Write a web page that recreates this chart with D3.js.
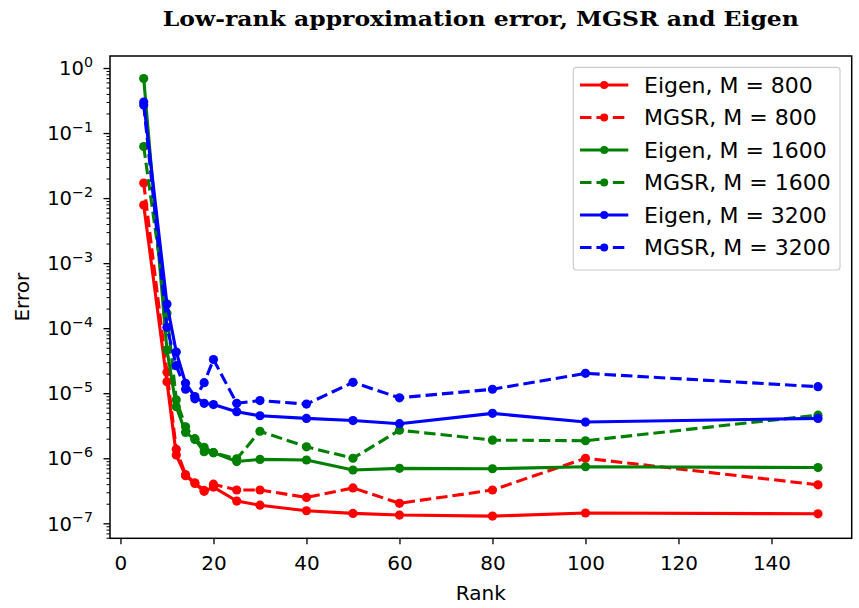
<!DOCTYPE html>
<html>
<head>
<meta charset="utf-8">
<script src="https://cdn.jsdelivr.net/npm/d3@7"></script>
<style>
  body { margin: 0; background: #fff; }
  svg { display: block; }
  text { font-family: "DejaVu Sans", sans-serif; fill: #000; }
</style>
</head>
<body>
<svg id="chart" width="859" height="608"></svg>
<script>
// Ranks at which the approximation error was measured
const ranks = [5, 10, 12, 14, 16, 18, 20, 25, 30, 40, 50, 60, 80, 100, 150];

// Error per rank for each method and sample size M
const eigen800  = [7.8e-3, 1.5e-5, 1.12e-6, 5.4e-7, 4.1e-7, 3.1e-7, 3.6e-7, 2.2e-7, 1.9e-7, 1.56e-7, 1.42e-7, 1.34e-7, 1.29e-7, 1.44e-7, 1.40e-7];
const mgsr800   = [1.7e-2, 2.1e-5, 1.37e-6, 5.6e-7, 4.2e-7, 3.2e-7, 4.0e-7, 3.25e-7, 3.25e-7, 2.5e-7, 3.5e-7, 2.03e-7, 3.25e-7, 1.0e-6, 3.9e-7];
const eigen1600 = [0.69, 4.6e-5, 6.2e-6, 2.5e-6, 1.95e-6, 1.26e-6, 1.22e-6, 8.9e-7, 9.6e-7, 9.4e-7, 6.6e-7, 7.0e-7, 6.9e-7, 7.4e-7, 7.2e-7];
const mgsr1600  = [6.2e-2, 1.7e-4, 7.9e-6, 3.05e-6, 2.0e-6, 1.47e-6, 1.22e-6, 9.8e-7, 2.6e-6, 1.5e-6, 1.0e-6, 2.7e-6, 1.9e-6, 1.86e-6, 4.6e-6];
const eigen3200 = [0.30, 2.35e-4, 4.3e-5, 1.42e-5, 8.9e-6, 7.0e-6, 6.7e-6, 5.2e-6, 4.5e-6, 4.1e-6, 3.8e-6, 3.4e-6, 4.9e-6, 3.6e-6, 4.1e-6];
const mgsr3200  = [0.27, 1.03e-4, 2.65e-5, 1.15e-5, 8.2e-6, 1.45e-5, 3.3e-5, 7.0e-6, 7.7e-6, 6.8e-6, 1.47e-5, 8.5e-6, 1.15e-5, 2.02e-5, 1.26e-5];

const seriesNames = ["Eigen, M = 800", "MGSR, M = 800", "Eigen, M = 1600", "MGSR, M = 1600", "Eigen, M = 3200", "MGSR, M = 3200"];
const seriesValues = [eigen800, mgsr800, eigen1600, mgsr1600, eigen3200, mgsr3200];
const seriesColors = ["#ff0000", "#ff0000", "#008000", "#008000", "#0000ff", "#0000ff"];
const seriesDashed = [false, true, false, true, false, true];

const xTicks = [0, 20, 40, 60, 80, 100, 120, 140];
const yExponents = [0, -1, -2, -3, -4, -5, -6, -7];

const titleText = "Low-rank approximation error, MGSR and Eigen";
const xLabel = "Rank";
const yLabel = "Error";

// Layout
const plot = { left: 110, top: 56, right: 851.7, bottom: 538.3 };
const lineW = 3.1;
const markerR = 4.6;

const svg = d3.select("#chart");

const x = d3.scaleLinear().domain([-2.25, 157.25]).range([plot.left, plot.right]);
const y = d3.scaleLog().domain([Math.pow(10, -7.2306), Math.pow(10, 0.1845)]).range([plot.bottom, plot.top]);

// Clip for data
svg.append("defs").append("clipPath").attr("id", "plotclip")
  .append("rect").attr("x", plot.left).attr("y", plot.top)
  .attr("width", plot.right - plot.left).attr("height", plot.bottom - plot.top);

// Axes
const xAxis = d3.axisBottom(x).tickValues(xTicks).tickSize(6).tickPadding(5).tickFormat(d3.format("d"));
const gx = svg.append("g").attr("transform", `translate(0,${plot.bottom})`).call(xAxis);
gx.select(".domain").remove();
gx.selectAll(".tick line").attr("stroke", "#000").attr("stroke-width", 1.3);
gx.selectAll(".tick text").attr("font-size", 20).attr("dy", null).attr("y", 32);

// Log axis: major ticks at decades, minor ticks between
const [ylo, yhi] = y.domain();
const minorVals = [];
for (let e = -8; e <= 0; e++) {
  for (let m = 2; m <= 9; m++) {
    const v = m * Math.pow(10, e);
    if (v >= ylo && v <= yhi) minorVals.push(v);
  }
}
const gyMinor = svg.append("g").attr("transform", `translate(${plot.left},0)`)
  .call(d3.axisLeft(y).tickValues(minorVals).tickSize(3.5).tickFormat(""));
gyMinor.select(".domain").remove();
gyMinor.selectAll(".tick line").attr("stroke", "#000").attr("stroke-width", 1);

const yMajor = yExponents.map(e => Math.pow(10, e));
const gy = svg.append("g").attr("transform", `translate(${plot.left},0)`)
  .call(d3.axisLeft(y).tickValues(yMajor).tickSize(6.5).tickFormat(""));
gy.select(".domain").remove();
gy.selectAll(".tick line").attr("stroke", "#000").attr("stroke-width", 1.3);

// Decade labels as 10 with superscript exponent
yExponents.forEach(e => {
  const yy = y(Math.pow(10, e));
  const t = svg.append("text").attr("x", 93).attr("y", yy + 7.2)
    .attr("text-anchor", "end").attr("font-size", 19.6);
  t.append("tspan").text("10");
  t.append("tspan").attr("font-size", 14.2).attr("dy", -8.5)
    .text(e === 0 ? "0" : "\u2212" + Math.abs(e));
});

// Series lines and markers
const line = d3.line().x((d, i) => x(ranks[i])).y(d => y(d));
const gData = svg.append("g").attr("clip-path", "url(#plotclip)");
seriesValues.forEach((vals, k) => {
  gData.append("path").datum(vals)
    .attr("d", line)
    .attr("fill", "none")
    .attr("stroke", seriesColors[k])
    .attr("stroke-width", lineW)
    .attr("stroke-linejoin", "round")
    .attr("stroke-linecap", seriesDashed[k] ? "butt" : "square")
    .attr("stroke-dasharray", seriesDashed[k] ? `${3.7 * lineW},${1.6 * lineW}` : null);
  gData.selectAll(null).data(vals).enter().append("circle")
    .attr("cx", (d, i) => x(ranks[i]))
    .attr("cy", d => y(d))
    .attr("r", markerR)
    .attr("fill", seriesColors[k]);
});

// Frame
svg.append("rect").attr("x", plot.left).attr("y", plot.top)
  .attr("width", plot.right - plot.left).attr("height", plot.bottom - plot.top)
  .attr("fill", "none").attr("stroke", "#000").attr("stroke-width", 1.5);

// Legend
const leg = { x: 573.3, y: 67.3, w: 266.7, h: 202.7, row0: 85, rowStep: 32.5 };
svg.append("rect").attr("x", leg.x).attr("y", leg.y).attr("width", leg.w).attr("height", leg.h)
  .attr("rx", 3).attr("fill", "#fff").attr("fill-opacity", 0.8)
  .attr("stroke", "#cccccc").attr("stroke-width", 1.2);
seriesNames.forEach((name, k) => {
  const ry = leg.row0 + k * leg.rowStep;
  svg.append("line").attr("x1", 580).attr("x2", 628.3).attr("y1", ry).attr("y2", ry)
    .attr("stroke", seriesColors[k]).attr("stroke-width", lineW)
    .attr("stroke-dasharray", seriesDashed[k] ? `${3.7 * lineW},${1.6 * lineW}` : null);
  svg.append("circle").attr("cx", 604.2).attr("cy", ry).attr("r", markerR - 0.6).attr("fill", seriesColors[k]);
  svg.append("text").attr("x", 644).attr("y", ry + 7.8).attr("font-size", 22).text(name);
});

// Axis titles
svg.append("text").attr("x", (plot.left + plot.right) / 2).attr("y", 600)
  .attr("text-anchor", "middle").attr("font-size", 20).text(xLabel);
svg.append("text").attr("transform", `translate(29,${(plot.top + plot.bottom) / 2}) rotate(-90)`)
  .attr("text-anchor", "middle").attr("font-size", 20).text(yLabel);

// Title
svg.append("text").attr("x", (plot.left + plot.right) / 2).attr("y", 26)
  .attr("text-anchor", "middle").attr("font-size", 20).attr("font-weight", "bold")
  .style("font-family", "'DejaVu Serif', serif")
  .attr("textLength", 636).attr("lengthAdjust", "spacingAndGlyphs")
  .text(titleText);
</script>
</body>
</html>
